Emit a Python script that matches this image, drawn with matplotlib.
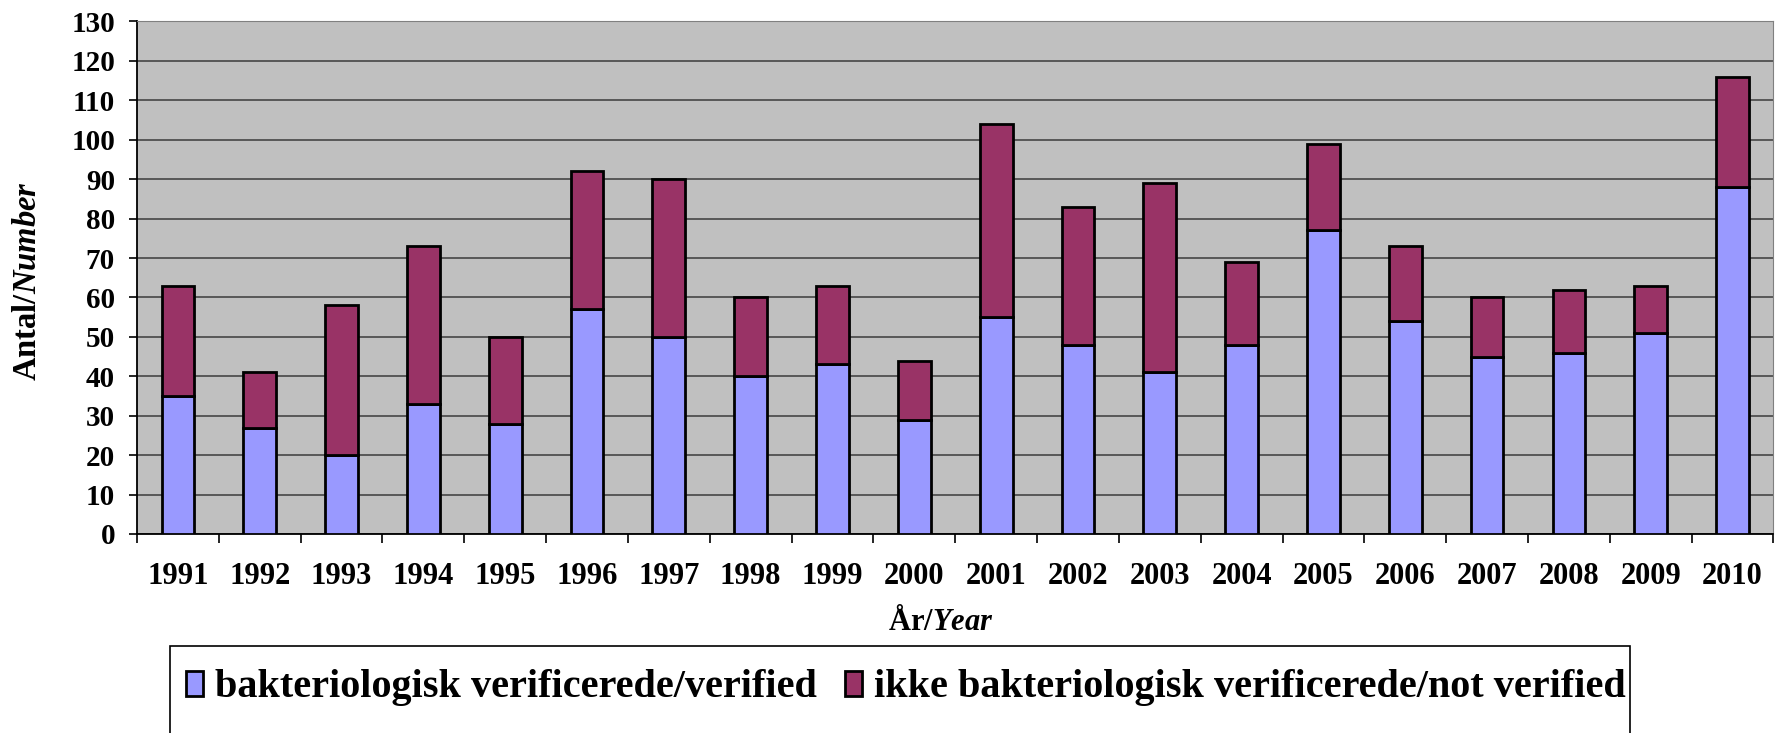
import numpy as np
import matplotlib
matplotlib.use("Agg")
import matplotlib.pyplot as plt
from matplotlib.patches import Rectangle

# data
years = [str(y) for y in range(1991, 2011)]
verified = [35, 27, 20, 33, 28, 57, 50, 40, 43, 29, 55, 48, 41, 48, 77, 54, 45, 46, 51, 88]
totals = [63, 41, 58, 73, 50, 92, 90, 60, 63, 44, 104, 83, 89, 69, 99, 73, 60, 62, 63, 116]
not_verified = [t - v for t, v in zip(totals, verified)]

lbl_verified = "bakteriologisk verificerede/verified"
lbl_not = "ikke bakteriologisk verificerede/not verified"

plt.rcParams['font.family'] = ['Liberation Serif', 'DejaVu Serif']
plt.rcParams['font.weight'] = 'bold'
plt.rcParams['mathtext.fontset'] = 'custom'
plt.rcParams['mathtext.bfit'] = 'Liberation Serif:italic:bold'
plt.rcParams['mathtext.rm'] = 'Liberation Serif:bold'

fig = plt.figure(figsize=(17.77, 7.33), dpi=100)
ax = fig.add_axes([0.0771, 0.2715, 0.9209, 0.6992])
ax.set_facecolor('#C0C0C0')

x = np.arange(len(years))
w = 0.4
ax.bar(x, verified, w, color='#9999FF', edgecolor='black', linewidth=2, zorder=3, label=lbl_verified)
ax.bar(x, not_verified, w, bottom=verified, color='#993366', edgecolor='black', linewidth=2,
       zorder=3, label=lbl_not)

ax.set_xlim(-0.5, len(years) - 0.5)
ax.set_ylim(0, 130)
ax.set_yticks(np.arange(0, 131, 10))
ax.yaxis.grid(True, color='#505050', linewidth=1.3, zorder=1)
ax.set_axisbelow(True)

# tick marks between categories, labels centred under bars
ax.set_xticks(np.arange(-0.5, len(years), 1.0))
ax.set_xticklabels([])
ax.set_xticks(x, minor=True)
ax.set_xticklabels(years, minor=True, fontsize=22, fontweight='bold')
ax.tick_params(axis='x', which='major', length=6.5, width=1.2, direction='out')
ax.tick_params(axis='x', which='minor', length=0, pad=20)
ax.tick_params(axis='y', length=5.8, width=1.2, labelsize=21, pad=10)
for lab in ax.get_yticklabels():
    lab.set_fontweight('bold')

ax.spines['left'].set_color('black')
ax.spines['bottom'].set_color('black')
ax.spines['left'].set_linewidth(1.3)
ax.spines['bottom'].set_linewidth(1.3)
ax.spines['top'].set_color('#808080')
ax.spines['right'].set_color('#808080')

fig.text(28 / 1777, 1 - 281 / 733, r"Antal/$\mathbfit{Number}$", rotation=90,
         ha='center', va='center', fontsize=23.5, fontweight='bold')
fig.text(941 / 1777, 1 - 622 / 733, r"År/$\mathbfit{Year}$", ha='center', va='center',
         fontsize=22, fontweight='bold')

# legend box running off the bottom edge
fig.patches.append(Rectangle((170 / 1777, -0.01), (1630 - 170) / 1777, 0.1282, transform=fig.transFigure,
                             facecolor='white', edgecolor='black', linewidth=1.2))
handles, labels = ax.get_legend_handles_labels()
fig.legend(handles, labels, loc='center', bbox_to_anchor=(906 / 1777, 1 - 688 / 733), ncol=2,
           frameon=False, prop={'family': 'Liberation Serif', 'weight': 'bold', 'size': 29},
           handlelength=0.42, handleheight=0.6, handletextpad=0.3, columnspacing=0.7)

fig.savefig("out.png", dpi=100)
